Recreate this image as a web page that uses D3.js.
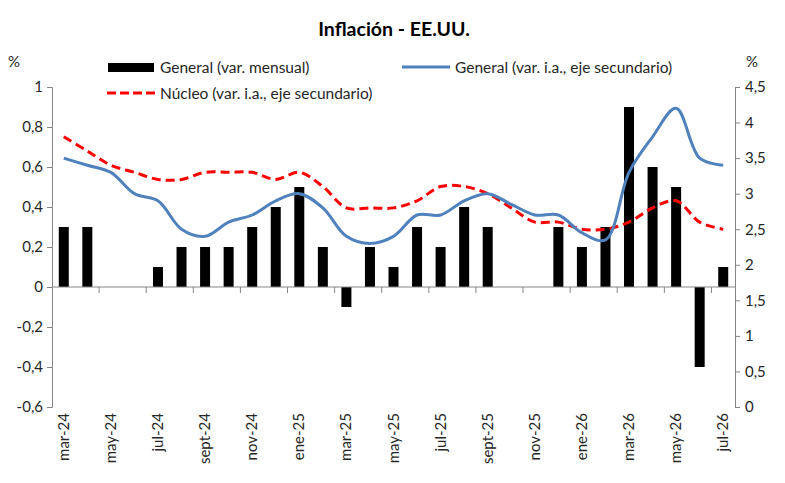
<!DOCTYPE html>
<html>
<head>
<meta charset="utf-8">
<script src="https://cdn.jsdelivr.net/npm/d3@7"></script>
<style>
  body { margin: 0; background: #fff; }
  text { font-family: Lato, "Open Sans", sans-serif; fill: #262626; }
</style>
</head>
<body>
<div id="container"></div>
<script>
/* CONSTANTS AND GLOBALS */
const width = 785;
const height = 483;
const margin = { top: 87, right: 50, bottom: 76, left: 52 };

/* DATA */
const months = ["mar-24","abr-24","may-24","jun-24","jul-24","ago-24","sept-24","oct-24","nov-24","dic-24",
  "ene-25","feb-25","mar-25","abr-25","may-25","jun-25","jul-25","ago-25","sept-25","oct-25","nov-25","dic-25",
  "ene-26","feb-26","mar-26","abr-26","may-26","jun-26","jul-26"];

// var. mensual (eje principal)
const generalMensual = [0.3,0.3,0,0,0.1,0.2,0.2,0.2,0.3,0.4,0.5,0.2,-0.1,0.2,0.1,0.3,0.2,0.4,0.3,0,0,0.3,0.2,0.3,0.9,0.6,0.5,-0.4,0.1];

// var. i.a. (eje secundario)
const generalIA = [3.5,3.4,3.3,3.0,2.9,2.5,2.4,2.6,2.7,2.9,3.0,2.8,2.4,2.3,2.4,2.7,2.7,2.9,3.0,2.85,2.7,2.7,2.45,2.35,3.3,3.8,4.2,3.5,3.4];
const nucleoIA = [3.8,3.6,3.4,3.3,3.2,3.2,3.3,3.3,3.3,3.2,3.3,3.1,2.8,2.8,2.8,2.9,3.1,3.1,3.0,2.8,2.6,2.6,2.5,2.5,2.6,2.8,2.9,2.6,2.5];

const leftTicks = [-0.6,-0.4,-0.2,0,0.2,0.4,0.6,0.8,1];
const rightTicks = [0,0.5,1,1.5,2,2.5,3,3.5,4,4.5];

const comma = v => String(v).replace(".", ",");

/* SCALES */
const xScale = d3.scaleBand()
  .domain(months)
  .range([margin.left, width - margin.right]);

const yLeft = d3.scaleLinear()
  .domain([-0.6, 1])
  .range([height - margin.bottom, margin.top]);

const yRight = d3.scaleLinear()
  .domain([0, 4.5])
  .range([height - margin.bottom, margin.top]);

/* SVG */
const svg = d3.select("#container")
  .append("svg")
  .attr("width", width)
  .attr("height", height);

// title
svg.append("text")
  .attr("x", 394)
  .attr("y", 36)
  .attr("text-anchor", "middle")
  .style("font-size", "19.5px")
  .style("font-weight", "bold")
  .style("fill", "#000")
  .text("Inflación - EE.UU.");

// bars
const barW = 10;
svg.selectAll("rect.bar")
  .data(generalMensual)
  .join("rect")
  .attr("class", "bar")
  .attr("x", (d, i) => xScale(months[i]) + xScale.bandwidth() / 2 - barW / 2)
  .attr("y", d => yLeft(Math.max(0, d)))
  .attr("width", barW)
  .attr("height", d => Math.abs(yLeft(d) - yLeft(0)))
  .attr("fill", "#000");

// lines
const cx = i => xScale(months[i]) + xScale.bandwidth() / 2;
const line = d3.line()
  .x((d, i) => cx(i))
  .y(d => yRight(d))
  .curve(d3.curveCatmullRom.alpha(0.5));

svg.append("path")
  .datum(nucleoIA)
  .attr("d", line)
  .attr("fill", "none")
  .attr("stroke", "#ff0000")
  .attr("stroke-width", 3)
  .attr("stroke-dasharray", "9,5");

svg.append("path")
  .datum(generalIA)
  .attr("d", line)
  .attr("fill", "none")
  .attr("stroke", "#4f81bd")
  .attr("stroke-width", 3);

// axes
const axisColor = "#868686";

const gLeft = svg.append("g")
  .attr("transform", `translate(${margin.left},0)`)
  .call(d3.axisLeft(yLeft).tickValues(leftTicks).tickFormat(comma).tickSize(5).tickPadding(4));

const gRight = svg.append("g")
  .attr("transform", `translate(${width - margin.right},0)`)
  .call(d3.axisRight(yRight).tickValues(rightTicks).tickFormat(comma).tickSize(5).tickPadding(5));

// x axis on the zero line, ticks every two months
const gX = svg.append("g")
  .attr("transform", `translate(0,${yLeft(0)})`);
gX.append("line")
  .attr("x1", margin.left).attr("x2", width - margin.right)
  .attr("stroke", axisColor);
gX.selectAll("line.tick")
  .data(months.filter((d, i) => i % 2 === 0 && i > 0))
  .join("line")
  .attr("class", "tick")
  .attr("x1", d => xScale(d)).attr("x2", d => xScale(d))
  .attr("y1", 0).attr("y2", 6)
  .attr("stroke", axisColor);

// month labels at the bottom
svg.selectAll("text.month")
  .data(months.filter((d, i) => i % 2 === 0))
  .join("text")
  .attr("class", "month")
  .attr("transform", d => `translate(${xScale(d) + xScale.bandwidth() / 2 + 5},${height - margin.bottom + 6}) rotate(-90)`)
  .attr("text-anchor", "end")
  .style("font-size", "15px")
  .text(d => d);

[gLeft, gRight].forEach(g => {
  g.select(".domain").attr("stroke", axisColor);
  g.selectAll(".tick line").attr("stroke", axisColor);
  g.selectAll(".tick text").style("font-size", "15px").style("fill", "#262626");
});

// % labels
svg.append("text").attr("x", 14).attr("y", 67).attr("text-anchor", "middle").style("font-size", "15px").text("%");
svg.append("text").attr("x", 752).attr("y", 67).attr("text-anchor", "middle").style("font-size", "15px").text("%");

// legend
const legend = svg.append("g").style("font-size", "15.5px");
legend.append("rect").attr("x", 108).attr("y", 63).attr("width", 46).attr("height", 9).attr("fill", "#000");
legend.append("text").attr("x", 160).attr("y", 73).text("General (var. mensual)");
legend.append("line").attr("x1", 402).attr("x2", 450).attr("y1", 67).attr("y2", 67)
  .attr("stroke", "#4f81bd").attr("stroke-width", 3);
legend.append("text").attr("x", 455).attr("y", 73).text("General (var. i.a., eje secundario)");
legend.append("line").attr("x1", 107).attr("x2", 155).attr("y1", 93).attr("y2", 93)
  .attr("stroke", "#ff0000").attr("stroke-width", 3).attr("stroke-dasharray", "9,4");
legend.append("text").attr("x", 160).attr("y", 99).text("Núcleo (var. i.a., eje secundario)");
</script>
</body>
</html>
